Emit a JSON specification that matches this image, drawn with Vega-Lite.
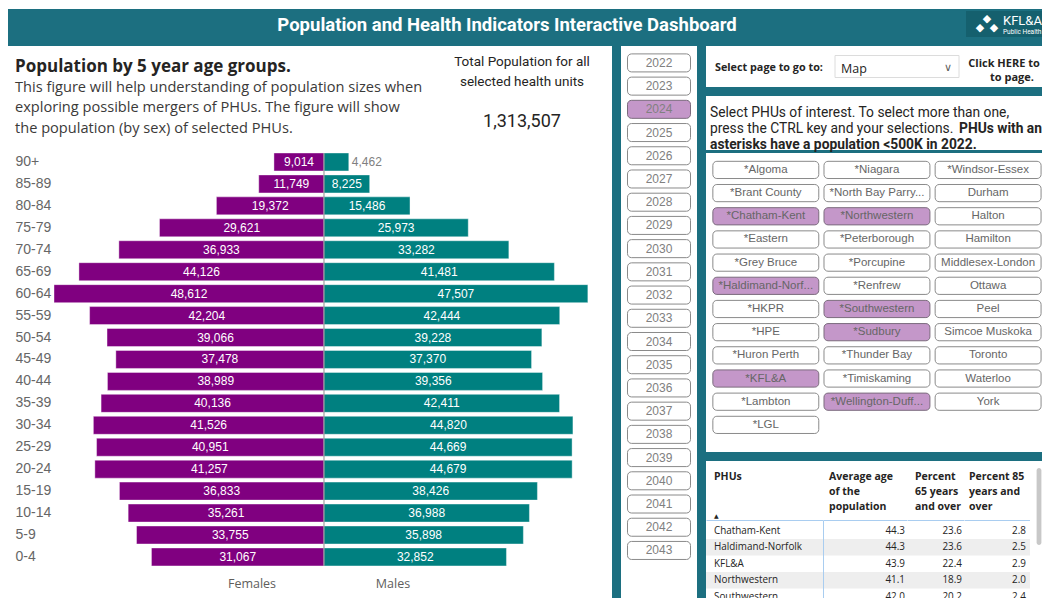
{
"$schema":"https://vega.github.io/schema/vega-lite/v6.json",
"background":"#1c6f80",
"padding":0,
"usermeta":{"embedOptions":{"actions":false}},
"config":{"view":{"stroke":null}},
"datasets":{
"pyramid":[
{"age":"90+","sex":"Females","pop":9014},{"age":"85-89","sex":"Females","pop":11749},{"age":"80-84","sex":"Females","pop":19372},{"age":"75-79","sex":"Females","pop":29621},{"age":"70-74","sex":"Females","pop":36933},{"age":"65-69","sex":"Females","pop":44126},{"age":"60-64","sex":"Females","pop":48612},{"age":"55-59","sex":"Females","pop":42204},{"age":"50-54","sex":"Females","pop":39066},{"age":"45-49","sex":"Females","pop":37478},{"age":"40-44","sex":"Females","pop":38989},{"age":"35-39","sex":"Females","pop":40136},{"age":"30-34","sex":"Females","pop":41526},{"age":"25-29","sex":"Females","pop":40951},{"age":"20-24","sex":"Females","pop":41257},{"age":"15-19","sex":"Females","pop":36833},{"age":"10-14","sex":"Females","pop":35261},{"age":"5-9","sex":"Females","pop":33755},{"age":"0-4","sex":"Females","pop":31067},
{"age":"90+","sex":"Males","pop":4462},{"age":"85-89","sex":"Males","pop":8225},{"age":"80-84","sex":"Males","pop":15486},{"age":"75-79","sex":"Males","pop":25973},{"age":"70-74","sex":"Males","pop":33282},{"age":"65-69","sex":"Males","pop":41481},{"age":"60-64","sex":"Males","pop":47507},{"age":"55-59","sex":"Males","pop":42444},{"age":"50-54","sex":"Males","pop":39228},{"age":"45-49","sex":"Males","pop":37370},{"age":"40-44","sex":"Males","pop":39356},{"age":"35-39","sex":"Males","pop":42411},{"age":"30-34","sex":"Males","pop":44820},{"age":"25-29","sex":"Males","pop":44669},{"age":"20-24","sex":"Males","pop":44679},{"age":"15-19","sex":"Males","pop":38426},{"age":"10-14","sex":"Males","pop":36988},{"age":"5-9","sex":"Males","pop":35898},{"age":"0-4","sex":"Males","pop":32852}
],
"years":[
{"year":"2022","selected":false},{"year":"2023","selected":false},{"year":"2024","selected":true},{"year":"2025","selected":false},{"year":"2026","selected":false},{"year":"2027","selected":false},{"year":"2028","selected":false},{"year":"2029","selected":false},{"year":"2030","selected":false},{"year":"2031","selected":false},{"year":"2032","selected":false},{"year":"2033","selected":false},{"year":"2034","selected":false},{"year":"2035","selected":false},{"year":"2036","selected":false},{"year":"2037","selected":false},{"year":"2038","selected":false},{"year":"2039","selected":false},{"year":"2040","selected":false},{"year":"2041","selected":false},{"year":"2042","selected":false},{"year":"2043","selected":false}
],
"phus":[
{"phu":"*Algoma","selected":false},{"phu":"*Niagara","selected":false},{"phu":"*Windsor-Essex","selected":false},
{"phu":"*Brant County","selected":false},{"phu":"*North Bay Parry Sound","selected":false},{"phu":"Durham","selected":false},
{"phu":"*Chatham-Kent","selected":true},{"phu":"*Northwestern","selected":true},{"phu":"Halton","selected":false},
{"phu":"*Eastern","selected":false},{"phu":"*Peterborough","selected":false},{"phu":"Hamilton","selected":false},
{"phu":"*Grey Bruce","selected":false},{"phu":"*Porcupine","selected":false},{"phu":"Middlesex-London","selected":false},
{"phu":"*Haldimand-Norfolk","selected":true},{"phu":"*Renfrew","selected":false},{"phu":"Ottawa","selected":false},
{"phu":"*HKPR","selected":false},{"phu":"*Southwestern","selected":true},{"phu":"Peel","selected":false},
{"phu":"*HPE","selected":false},{"phu":"*Sudbury","selected":true},{"phu":"Simcoe Muskoka","selected":false},
{"phu":"*Huron Perth","selected":false},{"phu":"*Thunder Bay","selected":false},{"phu":"Toronto","selected":false},
{"phu":"*KFL&A","selected":true},{"phu":"*Timiskaming","selected":false},{"phu":"Waterloo","selected":false},
{"phu":"*Lambton","selected":false},{"phu":"*Wellington-Dufferin-Guelph","selected":true},{"phu":"York","selected":false},
{"phu":"*LGL","selected":false}
],
"table":[
{"phu":"Chatham-Kent","avg_age":44.3,"pct65":23.6,"pct85":2.8},
{"phu":"Haldimand-Norfolk","avg_age":44.3,"pct65":23.6,"pct85":2.5},
{"phu":"KFL&A","avg_age":43.9,"pct65":22.4,"pct85":2.9},
{"phu":"Northwestern","avg_age":41.1,"pct65":18.9,"pct85":2.0},
{"phu":"Southwestern","avg_age":42.0,"pct65":20.2,"pct85":2.4}
]
},
"spacing":0,
"vconcat":[
{"width":1042,"height":9,"view":{"fill":"#ffffff"},"data":{"values":[]},"mark":"text","encoding":{"text":{"field":"t"}}},
{"spacing":0,"hconcat":[
{"width":8,"height":589,"view":{"fill":"#ffffff"},"data":{"values":[]},"mark":"text","encoding":{"text":{"field":"t"}}},
{"spacing":0,"vconcat":[
{"spacing":0,"hconcat":[
{"width":958,"height":37,"data":{"values":[{"title":"Population and Health Indicators Interactive Dashboard"}]},"mark":{"type":"text","font":"Roboto","fontWeight":"bold","fontSize":18.5,"color":"#ffffff","dx":20,"dy":-3},"encoding":{"text":{"field":"title"}}},
{"spacing":0,"vconcat":[
{"width":76,"height":2,"data":{"values":[]},"mark":"text","encoding":{"text":{"field":"t"}}},
{"width":76,"height":26,"view":{"fill":"#15606e"},"data":{"values":[{"t1":"KFL&A","t2":"Public Health"}]},"layer":[
{"mark":{"type":"text","font":"Roboto","fontSize":13,"color":"#ffffff","align":"left","dx":-1,"dy":-3,"clip":true},"encoding":{"text":{"field":"t1"}}},
{"mark":{"type":"text","font":"Roboto","fontSize":6.5,"color":"#ffffff","align":"left","dx":-1,"dy":8,"clip":true},"encoding":{"text":{"field":"t2"}}},
{"mark":{"type":"text","font":"DejaVu Sans","fontSize":11,"color":"#ffffff","dx":-17,"dy":-5},"encoding":{"text":{"value":"◆"}}},
{"mark":{"type":"text","font":"DejaVu Sans","fontSize":11,"color":"#ffffff","dx":-24,"dy":4},"encoding":{"text":{"value":"◆"}}},
{"mark":{"type":"text","font":"DejaVu Sans","fontSize":11,"color":"#ffffff","dx":-10,"dy":4},"encoding":{"text":{"value":"◆"}}}
]},
{"width":76,"height":9,"data":{"values":[]},"mark":"text","encoding":{"text":{"field":"t"}}}
]}
]},
{"spacing":9,"hconcat":[
{"spacing":0,"vconcat":[
{"spacing":0,"hconcat":[
{"width":430,"height":100,"view":{"fill":"#ffffff"},"layer":[
{"data":{"values":[{"line":0,"text":"Population by 5 year age groups."}]},"mark":{"type":"text","font":"Open Sans","fontWeight":"bold","fontSize":17,"color":"#252423","align":"left","dx":7},"encoding":{"x":{"datum":0,"type":"quantitative","scale":{"domain":[0,1],"nice":false,"zero":false},"axis":null},"y":{"field":"line","type":"ordinal","scale":{"type":"point","domain":[0,1,2,3],"padding":0.92,"align":0.553},"axis":null},"text":{"field":"text"}}},
{"data":{"values":[{"line":1,"text":"This figure will help understanding of population sizes when"},{"line":2,"text":"exploring possible mergers of PHUs.  The figure will show"},{"line":3,"text":"the population (by sex) of selected PHUs."}]},"mark":{"type":"text","font":"Open Sans","fontSize":14.6,"color":"#3b3a39","align":"left","dx":7},"encoding":{"x":{"datum":0,"type":"quantitative","scale":{"domain":[0,1],"nice":false,"zero":false},"axis":null},"y":{"field":"line","type":"ordinal","scale":{"type":"point","domain":[0,1,2,3],"padding":0.92,"align":0.553},"axis":null},"text":{"field":"text"}}}
]},
{"width":174,"height":100,"view":{"fill":"#ffffff"},"layer":[
{"data":{"values":[{"line":1,"text":"Total Population for all"},{"line":2,"text":"selected health units"}]},"mark":{"type":"text","font":"Roboto","fontSize":13.5,"color":"#252423","dx":-3},"encoding":{"y":{"field":"line","type":"ordinal","scale":{"type":"point","domain":[1,2,3,4],"padding":1.625,"align":0.404},"axis":null},"text":{"field":"text"}}},
{"data":{"name":"pyramid"},"transform":[{"aggregate":[{"op":"sum","field":"pop","as":"total"}]}],"mark":{"type":"text","font":"Roboto","fontSize":18,"color":"#252423","dx":-3},"encoding":{"y":{"datum":4,"type":"ordinal","scale":{"type":"point","domain":[1,2,3,4],"padding":1.625,"align":0.404},"axis":null},"text":{"field":"total","format":","}}}
]}
]},
{"width":604,"height":452,"view":{"fill":"#ffffff"},"data":{"name":"pyramid"},
"transform":[{"calculate":"datum.sex === 'Females' ? -datum.pop : datum.pop","as":"signed"},{"calculate":"datum.signed / 2","as":"mid"}],
"layer":[
{"mark":{"type":"bar","stroke":"#ffffff","strokeOpacity":0.4,"strokeWidth":1},"encoding":{
"x":{"field":"signed","type":"quantitative","scale":{"domain":[-56895,51854],"nice":false,"zero":false},"axis":null},
"x2":{"datum":0},
"y":{"field":"age","type":"ordinal","scale":{"type":"band","domain":["90+","85-89","80-84","75-79","70-74","65-69","60-64","55-59","50-54","45-49","40-44","35-39","30-34","25-29","20-24","15-19","10-14","5-9","0-4"],"paddingInner":0.18,"paddingOuter":0.89,"align":0.179},"axis":{"orient":"left","domain":false,"ticks":false,"tickSize":0,"grid":false,"title":null,"labelAlign":"left","labelPadding":-7,"labelFont":"Liberation Sans","labelFontSize":14,"labelColor":"#666666","labelOverlap":false}},
"color":{"field":"sex","type":"nominal","scale":{"domain":["Females","Males"],"range":["#800080","#008080"]},"legend":null}}},
{"data":{"values":[{"top":"90+","bottom":"0-4"}]},"mark":{"type":"rule","color":"#8c8c8c","strokeWidth":1},"encoding":{
"x":{"datum":0,"type":"quantitative"},
"y":{"field":"top","type":"ordinal","bandPosition":0},
"y2":{"field":"bottom","bandPosition":1}}},
{"transform":[{"filter":"datum.pop >= 5500"}],"mark":{"type":"text","font":"Liberation Sans","fontSize":12,"color":"#ffffff"},"encoding":{
"x":{"field":"mid","type":"quantitative"},
"y":{"field":"age","type":"ordinal"},
"text":{"field":"pop","format":","}}},
{"transform":[{"filter":"datum.pop < 5500"}],"mark":{"type":"text","font":"Liberation Sans","fontSize":12,"color":"#808080","align":"left","dx":3},"encoding":{
"x":{"field":"signed","type":"quantitative"},
"y":{"field":"age","type":"ordinal"},
"text":{"field":"pop","format":","}}},
{"data":{"values":[{"label":"Females"}]},"mark":{"type":"text","font":"Open Sans","fontSize":12.5,"color":"#605e5c","dy":27},"encoding":{"x":{"datum":-12963,"type":"quantitative"},"y":{"datum":"0-4","type":"ordinal"},"text":{"field":"label"}}},
{"data":{"values":[{"label":"Males"}]},"mark":{"type":"text","font":"Open Sans","fontSize":12.5,"color":"#605e5c","dy":27},"encoding":{"x":{"datum":12423,"type":"quantitative"},"y":{"datum":"0-4","type":"ordinal"},"text":{"field":"label"}}}
]}
]},
{"width":76,"height":552,"view":{"fill":"#ffffff"},"data":{"name":"years"},
"encoding":{"y":{"field":"year","type":"ordinal","scale":{"type":"band","paddingInner":0.224,"paddingOuter":1.01,"align":0.17},"axis":null}},
"layer":[
{"mark":{"type":"rect","cornerRadius":4,"strokeWidth":1},"encoding":{"x":{"datum":0,"type":"quantitative","scale":{"domain":[0,1],"padding":6.5,"nice":false,"zero":false},"axis":null},"x2":{"datum":1},"fill":{"condition":{"test":"datum.selected","value":"#c497c9"},"value":"#ffffff"},"stroke":{"condition":{"test":"datum.selected","value":"#7b6b7d"},"value":"#8a8a8a"}}},
{"mark":{"type":"text","font":"Liberation Sans","fontSize":12,"color":"#808080"},"encoding":{"text":{"field":"year"}}}
]},
{"spacing":9,"vconcat":[
{"spacing":0,"hconcat":[
{"width":124,"height":41,"view":{"fill":"#ffffff"},"data":{"values":[{"text":"Select page to go to:"}]},"mark":{"type":"text","font":"Open Sans","fontWeight":"bold","fontSize":10.8,"color":"#252423","align":"left","dx":9,"dy":1.5},"encoding":{"x":{"datum":0,"type":"quantitative","scale":{"domain":[0,1],"nice":false,"zero":false},"axis":null},"text":{"field":"text"}}},
{"width":134,"height":41,"view":{"fill":"#ffffff"},"data":{"values":[{"page":"Map"}]},"layer":[
{"mark":{"type":"rect","fill":"#ffffff","stroke":"#dcdcdc","strokeWidth":1},"encoding":{"x":{"datum":0,"type":"quantitative","scale":{"domain":[0,1],"padding":5,"nice":false,"zero":false},"axis":null},"x2":{"datum":1},"y":{"datum":0,"type":"quantitative","scale":{"domain":[0,1],"padding":9.5,"nice":false,"zero":false},"axis":null},"y2":{"datum":1}}},
{"mark":{"type":"text","font":"Open Sans","fontSize":12.5,"color":"#252423","align":"left","dx":6,"dy":2},"encoding":{"x":{"datum":0,"type":"quantitative"},"text":{"field":"page"}}},
{"mark":{"type":"text","font":"DejaVu Sans","fontSize":11,"color":"#605e5c","dx":-11,"dy":1},"encoding":{"x":{"datum":1,"type":"quantitative"},"text":{"value":"∨"}}}
]},
{"width":78,"height":41,"view":{"fill":"#ffffff"},"data":{"values":[{"line":1,"text":"Click HERE to go"},{"line":2,"text":"to page."}]},"mark":{"type":"text","font":"Open Sans","fontWeight":"bold","fontSize":11,"color":"#252423","dx":9,"clip":true},"encoding":{"y":{"field":"line","type":"ordinal","scale":{"type":"point","domain":[1,2],"padding":0.964,"align":0.667},"axis":null},"text":{"field":"text"}}}
]},
{"spacing":0,"vconcat":[
{"width":336,"height":54,"view":{"fill":"#ffffff"},
"encoding":{"x":{"datum":0,"type":"quantitative","scale":{"domain":[0,1],"nice":false,"zero":false},"axis":null},"y":{"field":"line","type":"ordinal","scale":{"type":"point","domain":[1,2,3],"padding":0.66,"align":0.79},"axis":null},"text":{"field":"text"}},
"layer":[
{"data":{"values":[{"line":1,"text":"Select PHUs of interest. To select more than one,"},{"line":2,"text":"press the CTRL key and your selections."}]},"mark":{"type":"text","font":"Roboto","fontSize":13.8,"color":"#252423","align":"left","dx":4}},
{"data":{"values":[{"line":2,"text":"PHUs with an"}]},"mark":{"type":"text","font":"Roboto","fontWeight":"bold","fontSize":13.8,"color":"#252423","align":"left","dx":253,"clip":true}},
{"data":{"values":[{"line":3,"text":"asterisks have a population <500K in 2022."}]},"mark":{"type":"text","font":"Roboto","fontWeight":"bold","fontSize":13.8,"color":"#252423","align":"left","dx":4}}
]},
{"width":336,"height":299,"view":{"fill":"#ffffff"},"data":{"name":"phus"},
"transform":[{"window":[{"op":"row_number","as":"idx"}]},{"calculate":"(datum.idx-1)%3","as":"col"},{"calculate":"floor((datum.idx-1)/3)","as":"row"}],
"encoding":{"x":{"field":"col","type":"ordinal","scale":{"type":"band","paddingInner":0.047,"paddingOuter":0.035,"align":0.88},"axis":null},"y":{"field":"row","type":"ordinal","scale":{"type":"band","paddingInner":0.258,"paddingOuter":0.579,"align":0.31},"axis":null}},
"layer":[
{"mark":{"type":"rect","cornerRadius":4,"strokeWidth":1},"encoding":{"fill":{"condition":{"test":"datum.selected","value":"#c497c9"},"value":"#ffffff"},"stroke":{"condition":{"test":"datum.selected","value":"#7b6b7d"},"value":"#8a8a8a"}}},
{"mark":{"type":"text","font":"Liberation Sans","fontSize":11.5,"color":"#666666","limit":97,"ellipsis":"..."},"encoding":{"text":{"field":"phu"}}}
]}
]},
{"spacing":0,"hconcat":[
{"spacing":0,"vconcat":[
{"spacing":0,"hconcat":[
{"width":117,"height":59,"view":{"fill":"#ffffff"},"encoding":{"x":{"datum":0,"type":"quantitative","scale":{"domain":[0,1],"nice":false,"zero":false},"axis":null},"y":{"field":"line","type":"ordinal","scale":{"type":"point","domain":[1,2,3],"padding":0.967,"align":0.552},"axis":null},"text":{"field":"text"}},"layer":[
{"data":{"values":[{"line":1,"text":"PHUs"}]},"mark":{"type":"text","font":"Open Sans","fontWeight":"bold","fontSize":10.5,"color":"#252423","align":"left","dx":8}},
{"data":{"values":[{"line":3,"text":"▲"}]},"mark":{"type":"text","font":"DejaVu Sans","fontSize":6,"color":"#252423","align":"left","dx":8,"dy":9}}
]},
{"width":84,"height":59,"view":{"fill":"#ffffff"},"data":{"values":[{"line":1,"text":"Average age"},{"line":2,"text":"of the"},{"line":3,"text":"population"}]},"mark":{"type":"text","font":"Open Sans","fontWeight":"bold","fontSize":10.5,"color":"#252423","align":"left","dx":6},"encoding":{"x":{"datum":0,"type":"quantitative","scale":{"domain":[0,1],"nice":false,"zero":false},"axis":null},"y":{"field":"line","type":"ordinal","scale":{"type":"point","domain":[1,2,3],"padding":0.967,"align":0.552},"axis":null},"text":{"field":"text"}}},
{"width":57,"height":59,"view":{"fill":"#ffffff"},"data":{"values":[{"line":1,"text":"Percent"},{"line":2,"text":"65 years"},{"line":3,"text":"and over"}]},"mark":{"type":"text","font":"Open Sans","fontWeight":"bold","fontSize":10.5,"color":"#252423","align":"left","dx":8},"encoding":{"x":{"datum":0,"type":"quantitative","scale":{"domain":[0,1],"nice":false,"zero":false},"axis":null},"y":{"field":"line","type":"ordinal","scale":{"type":"point","domain":[1,2,3],"padding":0.967,"align":0.552},"axis":null},"text":{"field":"text"}}},
{"width":66,"height":59,"view":{"fill":"#ffffff"},"data":{"values":[{"line":1,"text":"Percent 85"},{"line":2,"text":"years and"},{"line":3,"text":"over"}]},"mark":{"type":"text","font":"Open Sans","fontWeight":"bold","fontSize":10.5,"color":"#252423","align":"left","dx":5,"clip":true},"encoding":{"x":{"datum":0,"type":"quantitative","scale":{"domain":[0,1],"nice":false,"zero":false},"axis":null},"y":{"field":"line","type":"ordinal","scale":{"type":"point","domain":[1,2,3],"padding":0.967,"align":0.552},"axis":null},"text":{"field":"text"}}}
]},
{"spacing":0,"hconcat":[
{"width":117,"height":81,"view":{"fill":"#ffffff"},"data":{"name":"table"},
"transform":[{"window":[{"op":"row_number","as":"n"}],"sort":[{"field":"phu","order":"ascending"}]},{"calculate":"datum.n-0.5","as":"lo"},{"calculate":"datum.n+0.5","as":"hi"}],
"layer":[
{"transform":[{"filter":"datum.n % 2 == 0"}],"mark":{"type":"rect","fill":"#eeeeee"},"encoding":{"x":{"datum":0,"type":"quantitative","scale":{"domain":[0,1],"nice":false,"zero":false},"axis":{"orient":"top","domain":true,"domainColor":"#a9cdf0","domainWidth":1,"labels":false,"ticks":false,"grid":false,"title":null,"zindex":1}},"x2":{"datum":1},"y":{"field":"lo","type":"quantitative","scale":{"domain":[0.3485,5.258],"reverse":true,"nice":false,"zero":false},"axis":null},"y2":{"field":"hi"}}},
{"mark":{"type":"text","font":"Open Sans","fontSize":9.9,"color":"#252423","align":"left","dx":8},"encoding":{"x":{"datum":0,"type":"quantitative"},"y":{"field":"n","type":"quantitative"},"text":{"field":"phu"}}}
]},
{"width":84,"height":81,"view":{"fill":"#ffffff"},"data":{"name":"table"},
"transform":[{"window":[{"op":"row_number","as":"n"}],"sort":[{"field":"phu","order":"ascending"}]},{"calculate":"datum.n-0.5","as":"lo"},{"calculate":"datum.n+0.5","as":"hi"}],
"layer":[
{"transform":[{"filter":"datum.n % 2 == 0"}],"mark":{"type":"rect","fill":"#eeeeee"},"encoding":{"x":{"datum":0,"type":"quantitative","scale":{"domain":[0,1],"nice":false,"zero":false},"axis":{"orient":"top","domain":true,"domainColor":"#a9cdf0","domainWidth":1,"labels":false,"ticks":false,"grid":false,"title":null,"zindex":1}},"x2":{"datum":1},"y":{"field":"lo","type":"quantitative","scale":{"domain":[0.3485,5.258],"reverse":true,"nice":false,"zero":false},"axis":{"orient":"left","domain":true,"domainColor":"#a9cdf0","domainWidth":1,"labels":false,"ticks":false,"grid":false,"title":null,"zindex":1}},"y2":{"field":"hi"}}},
{"mark":{"type":"text","font":"Open Sans","fontSize":9.9,"color":"#252423","align":"right","dx":-2},"encoding":{"x":{"datum":1,"type":"quantitative"},"y":{"field":"n","type":"quantitative"},"text":{"field":"avg_age","format":".1f"}}}
]},
{"width":57,"height":81,"view":{"fill":"#ffffff"},"data":{"name":"table"},
"transform":[{"window":[{"op":"row_number","as":"n"}],"sort":[{"field":"phu","order":"ascending"}]},{"calculate":"datum.n-0.5","as":"lo"},{"calculate":"datum.n+0.5","as":"hi"}],
"layer":[
{"transform":[{"filter":"datum.n % 2 == 0"}],"mark":{"type":"rect","fill":"#eeeeee"},"encoding":{"x":{"datum":0,"type":"quantitative","scale":{"domain":[0,1],"nice":false,"zero":false},"axis":{"orient":"top","domain":true,"domainColor":"#a9cdf0","domainWidth":1,"labels":false,"ticks":false,"grid":false,"title":null,"zindex":1}},"x2":{"datum":1},"y":{"field":"lo","type":"quantitative","scale":{"domain":[0.3485,5.258],"reverse":true,"nice":false,"zero":false},"axis":null},"y2":{"field":"hi"}}},
{"mark":{"type":"text","font":"Open Sans","fontSize":9.9,"color":"#252423","align":"right","dx":-2},"encoding":{"x":{"datum":1,"type":"quantitative"},"y":{"field":"n","type":"quantitative"},"text":{"field":"pct65","format":".1f"}}}
]},
{"width":66,"height":81,"view":{"fill":"#ffffff"},"data":{"name":"table"},
"transform":[{"window":[{"op":"row_number","as":"n"}],"sort":[{"field":"phu","order":"ascending"}]},{"calculate":"datum.n-0.5","as":"lo"},{"calculate":"datum.n+0.5","as":"hi"}],
"layer":[
{"transform":[{"filter":"datum.n % 2 == 0"}],"mark":{"type":"rect","fill":"#eeeeee"},"encoding":{"x":{"datum":0,"type":"quantitative","scale":{"domain":[0,1],"nice":false,"zero":false},"axis":{"orient":"top","domain":true,"domainColor":"#a9cdf0","domainWidth":1,"labels":false,"ticks":false,"grid":false,"title":null,"zindex":1}},"x2":{"datum":1},"y":{"field":"lo","type":"quantitative","scale":{"domain":[0.3485,5.258],"reverse":true,"nice":false,"zero":false},"axis":null},"y2":{"field":"hi"}}},
{"mark":{"type":"text","font":"Open Sans","fontSize":9.9,"color":"#252423","align":"right","dx":-4},"encoding":{"x":{"datum":1,"type":"quantitative"},"y":{"field":"n","type":"quantitative"},"text":{"field":"pct85","format":".1f"}}}
]}
]}
]},
{"width":12,"height":140,"view":{"fill":"#ffffff"},"data":{"values":[{}]},"mark":{"type":"rect","fill":"#c8c8c8","cornerRadius":2.5},"encoding":{"x":{"datum":0.55,"type":"quantitative","scale":{"domain":[0,1],"nice":false,"zero":false},"axis":null},"x2":{"datum":0.95},"y":{"datum":0.05,"type":"quantitative","scale":{"domain":[0,1],"reverse":true,"nice":false,"zero":false},"axis":null},"y2":{"datum":0.6}}}
]}
]}
]}
]}
]}
]
}
